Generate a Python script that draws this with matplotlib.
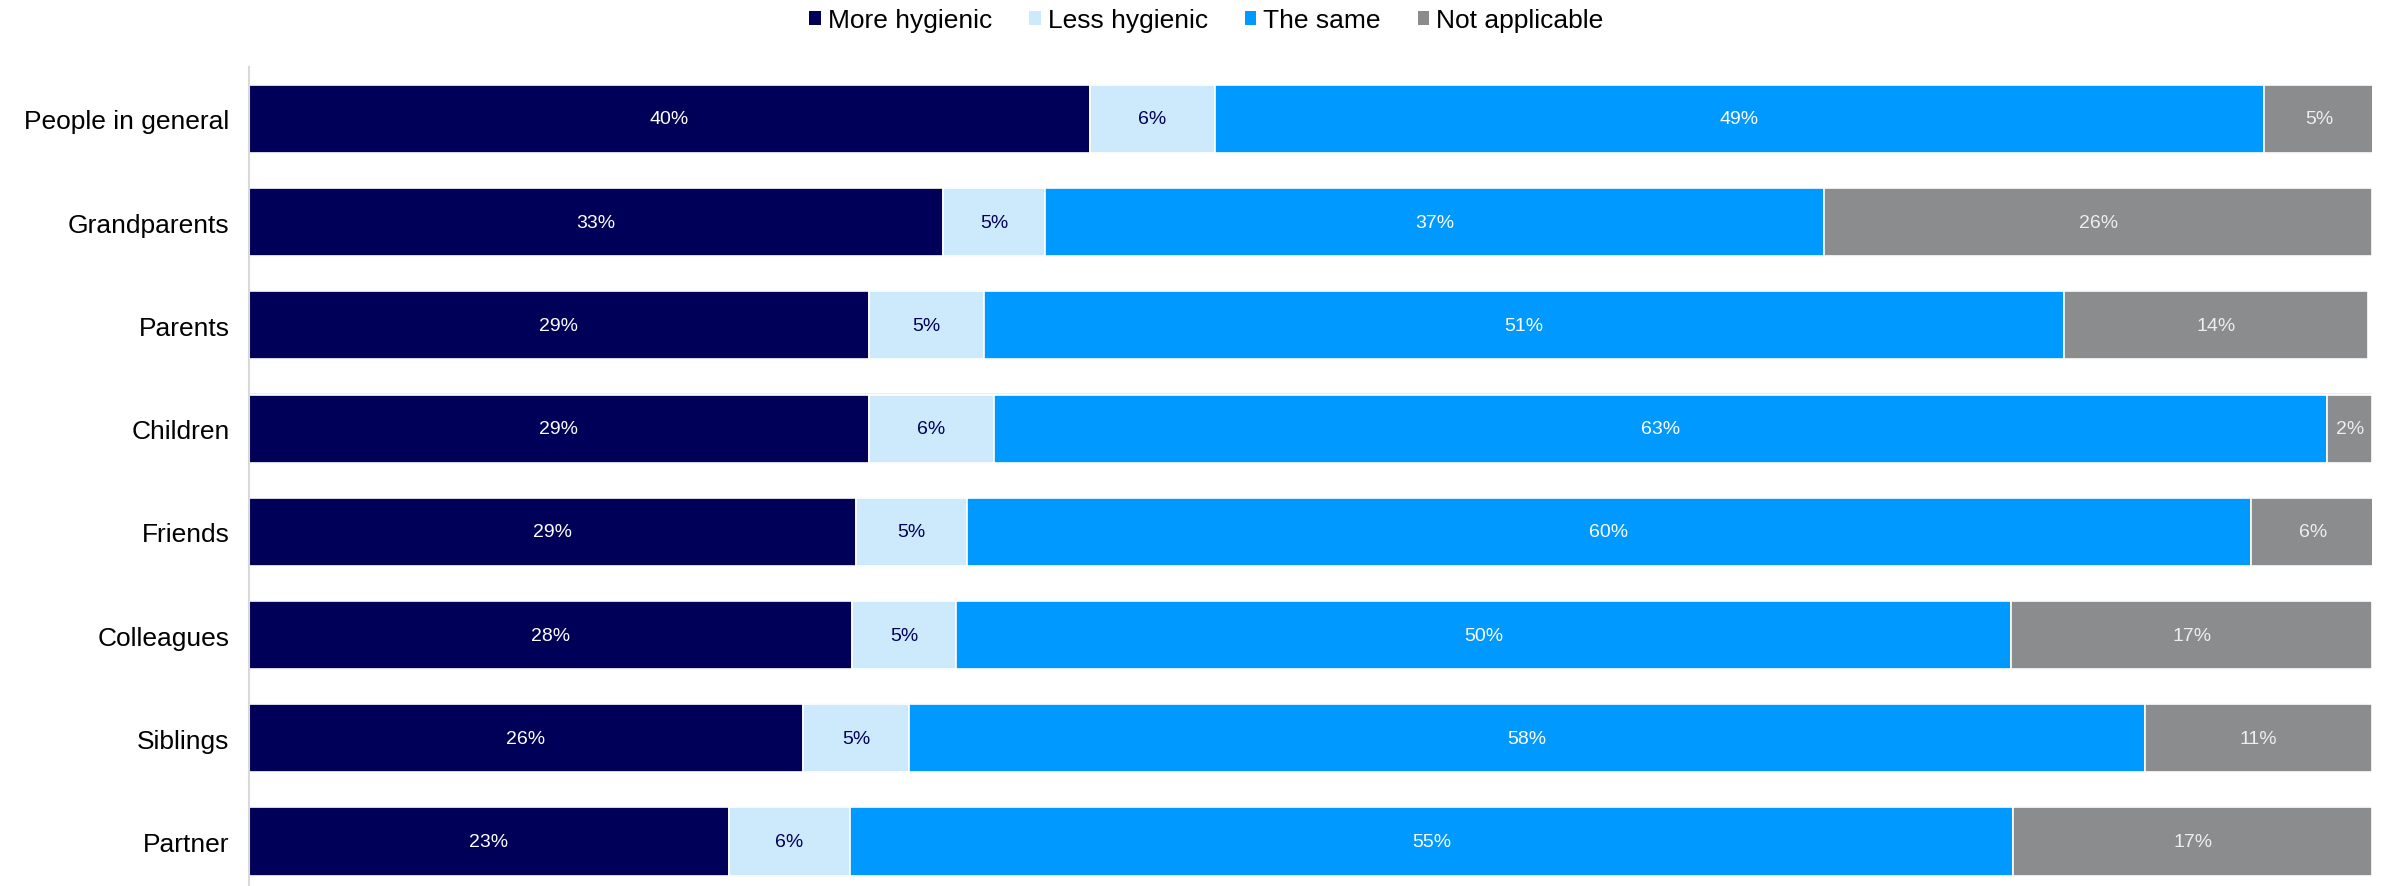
import numpy as np
import matplotlib.pyplot as plt
from matplotlib.patches import Patch

plt.rcParams['font.family'] = ['Liberation Sans', 'DejaVu Sans']

groups = ["People in general", "Grandparents", "Parents", "Children",
          "Friends", "Colleagues", "Siblings", "Partner"]
series = ["More hygienic", "Less hygienic", "The same", "Not applicable"]

more_hygienic = [39.6, 32.7, 29.2, 29.2, 28.6, 28.4, 26.1, 22.6]
less_hygienic = [5.9, 4.8, 5.4, 5.9, 5.2, 4.9, 5.0, 5.7]
the_same = [49.4, 36.7, 50.9, 62.8, 60.5, 49.7, 58.2, 54.8]
not_applicable = [5.2, 25.8, 14.3, 2.1, 5.8, 17.0, 10.7, 16.9]

colors = ["#000058", "#cde9fc", "#0099ff", "#8a8c8e"]
text_colors = ["white", "#000058", "white", "#eeeeee"]

fig = plt.figure(figsize=(23.84, 8.87), dpi=100)
ax = fig.add_axes([0.1044, -0.008, 0.8906, 0.931])

y = np.arange(len(groups))
vals = np.array([more_hygienic, less_hygienic, the_same, not_applicable])
totals = vals.sum(axis=0)

# thin grey frame round each bar
ax.barh(y, totals, height=0.68, color="#eeeeee", zorder=1)

left = np.zeros(len(groups))
for i, name in enumerate(series):
    ax.barh(y, vals[i], left=left, height=0.66, color=colors[i],
            edgecolor="white", linewidth=1.2, label=name, zorder=2)
    for j, v in enumerate(vals[i]):
        ax.text(left[j] + v / 2, y[j], f"{v:.0f}%", ha="center", va="center",
                color=text_colors[i], fontsize=14,
                family=['Liberation Sans Narrow', 'Liberation Sans'], zorder=3)
    left += vals[i]

ax.set_xlim(0, 100)
ax.set_ylim(7.5, -0.5)
ax.set_yticks(y)
ax.set_yticklabels(groups, fontsize=19)
ax.tick_params(axis="y", length=0, pad=14)
ax.set_xticks([])
for s in ["top", "right", "bottom"]:
    ax.spines[s].set_visible(False)
ax.spines["left"].set_color("#d9d9d9")
ax.spines["left"].set_linewidth(1.5)

handles = [Patch(facecolor=c, label=n) for c, n in zip(colors, series)]
fig.legend(handles=handles, loc="center", bbox_to_anchor=(0.506, 0.976), ncol=4,
           frameon=False, fontsize=19, handlelength=0.45, handleheight=0.45,
           handletextpad=0.25, columnspacing=1.4)

fig.savefig("out.png", dpi=100)
